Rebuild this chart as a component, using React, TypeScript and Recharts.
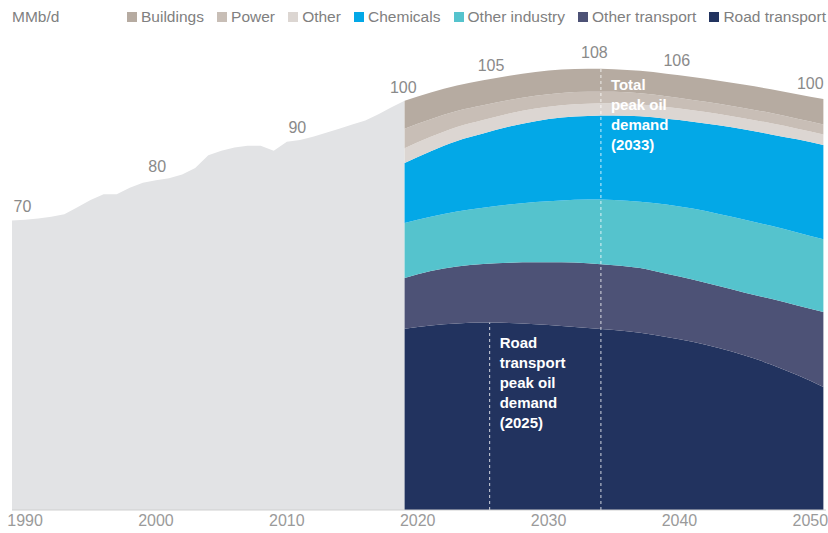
import { Area, AreaChart, ReferenceDot, ReferenceLine, XAxis, YAxis } from 'recharts';

const FONT = '"Liberation Sans", Arial, sans-serif';

// historical total demand, MMb/d
const histYears = [
  1989, 1990, 1991, 1992, 1993, 1994, 1995, 1996, 1997, 1998, 1999, 2000, 2001, 2002, 2003, 2004,
  2005, 2006, 2007, 2008, 2009, 2010, 2011, 2012, 2013, 2014, 2015, 2016, 2017, 2018, 2019,
];
const histDemand = [
  70.6, 70.8, 71.1, 71.5, 72.1, 73.8, 75.6, 77.0, 77.0, 78.6, 79.8, 80.4, 80.9, 81.8, 83.4, 86.5,
  87.6, 88.4, 88.8, 88.8, 87.6, 89.8, 90.2, 91.0, 92.0, 93.0, 94.0, 95.0, 96.5, 98.2, 99.8,
];

// outlook by sector
const forecastYears = [
  2019, 2021, 2023, 2025, 2027, 2029, 2031, 2033, 2035, 2037, 2039, 2041, 2043, 2045, 2047, 2049, 2051,
];
const roadTransport = [
  44.2, 45.0, 45.5, 45.7, 45.6, 45.3, 44.9, 44.4, 43.9, 43.2, 42.2, 41.0, 39.5, 37.7, 35.5, 32.9, 30.0,
];
const otherTransport = [
  12.4, 13.3, 13.9, 14.3, 14.7, 15.1, 15.5, 15.8, 15.8, 15.8, 15.4, 15.2, 15.1, 15.3, 16.0, 17.0, 18.3,
];
const otherIndustry = [
  13.4, 13.2, 13.4, 13.7, 14.2, 14.7, 15.1, 15.5, 15.9, 16.2, 16.9, 17.3, 17.6, 17.8, 17.8, 17.8, 17.7,
];
const chemicals = [
  14.6, 16.0, 17.2, 18.1, 19.0, 19.7, 20.2, 20.4, 20.6, 20.8, 20.9, 21.2, 21.6, 22.0, 22.3, 22.7, 23.0,
];
const otherUse = [
  3.6, 3.5, 3.4, 3.3, 3.2, 3.1, 3.0, 3.0, 3.0, 2.9, 2.9, 2.8, 2.8, 2.7, 2.7, 2.6, 2.6,
];
const power = [
  4.8, 4.3, 3.9, 3.6, 3.3, 3.1, 3.0, 2.9, 2.8, 2.7, 2.6, 2.5, 2.5, 2.5, 2.5, 2.4, 2.4,
];
const buildings = [
  6.8, 6.5, 6.2, 6.1, 5.9, 5.8, 5.7, 5.6, 5.5, 5.5, 5.5, 5.6, 5.6, 5.7, 5.8, 6.0, 6.2,
];

const xTicks = [1990, 2000, 2010, 2020, 2030, 2040, 2050];

// total labels along the curve
const totalLabels = [
  { year: 1989.8, value: 70.7, text: '70' },
  { year: 2000.1, value: 80.4, text: '80' },
  { year: 2010.8, value: 90.0, text: '90' },
  { year: 2018.9, value: 99.8, text: '100' },
  { year: 2025.6, value: 105.0, text: '105' },
  { year: 2033.5, value: 108.3, text: '108' },
  { year: 2039.8, value: 106.4, text: '106' },
  { year: 2050.0, value: 100.6, text: '100' },
];

const roadPeakYear = 2025.5;
const totalPeakYear = 2034;
const roadNote = ['Road', 'transport', 'peak oil', 'demand', '(2025)'];
const totalNote = ['Total', 'peak oil', 'demand', '(2033)'];

// bottom to top
const series = [
  { key: 'road', name: 'Road transport', values: roadTransport, color: '#22335f' },
  { key: 'otherTransport', name: 'Other transport', values: otherTransport, color: '#4d5276' },
  { key: 'otherIndustry', name: 'Other industry', values: otherIndustry, color: '#55c3cd' },
  { key: 'chemicals', name: 'Chemicals', values: chemicals, color: '#03a8e7' },
  { key: 'other', name: 'Other', values: otherUse, color: '#dcd6d2' },
  { key: 'power', name: 'Power', values: power, color: '#c8beb6' },
  { key: 'buildings', name: 'Buildings', values: buildings, color: '#b6aba1' },
];

type Row = { year: number; [key: string]: number | undefined };

const rowMap = new Map<number, Row>();
const rowFor = (year: number) => {
  if (!rowMap.has(year)) rowMap.set(year, { year });
  return rowMap.get(year)!;
};
histYears.forEach((y, i) => {
  rowFor(y).hist = histDemand[i];
});
forecastYears.forEach((y, i) => {
  const row = rowFor(y);
  series.forEach((s) => {
    row[s.key] = s.values[i];
  });
});
const data = Array.from(rowMap.values()).sort((a, b) => a.year - b.year);

const totals = forecastYears.map((_, i) => series.reduce((sum, s) => sum + s.values[i], 0));
const roadPeak = Math.max(...roadTransport);
const totalPeak = Math.max(...totals);

function NoteLabel({ viewBox, lines, dy }: any) {
  if (!viewBox) return null;
  const x = viewBox.x + 10;
  return (
    <text x={x} y={viewBox.y + dy} fill="#ffffff" fontSize={15} fontWeight={700} fontFamily={FONT}>
      {lines.map((line: string, i: number) => (
        <tspan key={line} x={x} dy={i === 0 ? 0 : 20}>
          {line}
        </tspan>
      ))}
    </text>
  );
}

function TopLegend() {
  const items = [...series].reverse();
  return (
    <>
      <div style={{ position: 'absolute', left: 12, top: 8, fontSize: 15.5, color: '#808080' }}>MMb/d</div>
      <div
        style={{
          position: 'absolute',
          left: 127,
          width: 699,
          top: 8,
          display: 'flex',
          justifyContent: 'space-between',
          fontSize: 15.5,
          color: '#808080',
          whiteSpace: 'nowrap',
        }}
      >
        {items.map((s) => (
          <span key={s.key} style={{ display: 'flex', alignItems: 'center' }}>
            <span style={{ width: 10, height: 10, background: s.color, marginRight: 4, display: 'inline-block' }} />
            {s.name}
          </span>
        ))}
      </div>
    </>
  );
}

export default function App() {
  return (
    <div style={{ position: 'absolute', left: 0, top: 0, width: 828, height: 533, fontFamily: FONT, background: '#fff' }}>
      <AreaChart width={828} height={533} data={data} margin={{ top: 13, right: 2, left: 12, bottom: 0 }}>
        <XAxis
          dataKey="year"
          type="number"
          domain={[1989, 2051.2]}
          ticks={xTicks}
          allowDataOverflow
          tickLine={false}
          tickSize={0}
          tickMargin={5}
          height={23}
          axisLine={{ stroke: '#cfcfcf' }}
          tick={{ fill: '#9a9a9a', fontSize: 16, fontFamily: FONT }}
        />
        <YAxis hide type="number" domain={[0, 121.2]} allowDataOverflow />
        <Area
          type="linear"
          dataKey="hist"
          fill="#e2e3e5"
          fillOpacity={1}
          stroke="none"
          isAnimationActive={false}
        />
        {series.map((s) => (
          <Area
            key={s.key}
            type="monotone"
            dataKey={s.key}
            name={s.name}
            stackId="outlook"
            fill={s.color}
            fillOpacity={1}
            stroke="none"
            isAnimationActive={false}
          />
        ))}
        <ReferenceLine
          segment={[
            { x: roadPeakYear, y: 0 },
            { x: roadPeakYear, y: roadPeak },
          ]}
          stroke="#ffffff"
          strokeOpacity={0.8}
          strokeDasharray="3 3"
          label={<NoteLabel lines={roadNote} dy={25} />}
        />
        <ReferenceLine
          segment={[
            { x: totalPeakYear, y: 0 },
            { x: totalPeakYear, y: totalPeak },
          ]}
          stroke="#ffffff"
          strokeOpacity={0.8}
          strokeDasharray="3 3"
          label={<NoteLabel lines={totalNote} dy={21} />}
        />
        {totalLabels.map((l, i) => (
          <ReferenceDot
            key={i}
            x={l.year}
            y={l.value}
            r={0}
            fill="none"
            stroke="none"
            label={{ value: l.text, position: 'top', offset: 8, fill: '#8a8a8a', fontSize: 16, fontFamily: FONT }}
          />
        ))}
      </AreaChart>
      <TopLegend />
    </div>
  );
}
